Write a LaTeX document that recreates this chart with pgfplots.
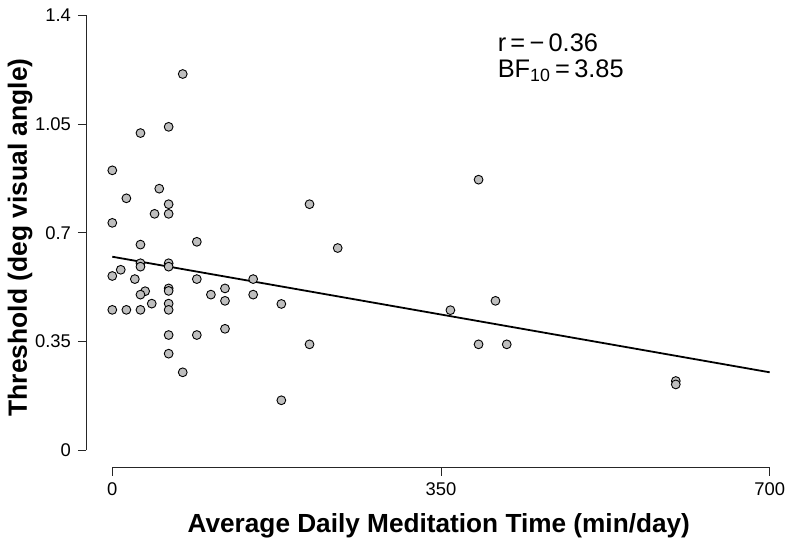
\documentclass[border=0pt]{standalone}
\usepackage{fontspec}
\setmainfont{Liberation Sans}
\usepackage{pgfplots}
\pgfplotsset{compat=1.18}
\definecolor{ptfill}{RGB}{190,190,190}

\pgfplotstableread{
x y
75 1.211
60 1.041
30 1.021
0 0.901
50 0.842
15 0.811
60 0.792
45 0.761
60 0.761
0 0.732
30 0.662
90 0.671
30 0.602
30 0.591
60 0.602
60 0.591
9 0.581
0 0.561
24 0.551
90 0.551
150 0.551
60 0.521
60 0.513
35 0.512
30 0.501
105 0.501
120 0.521
120 0.481
150 0.501
180 0.471
60 0.472
42 0.472
0 0.452
15 0.452
30 0.452
60 0.452
60 0.371
90 0.371
120 0.391
60 0.311
75 0.251
180 0.161
210 0.792
240 0.651
210 0.341
390 0.871
360 0.451
408 0.481
390 0.341
420 0.341
600 0.223
600 0.212
}\meditation

\begin{document}
\begin{tikzpicture}
\begin{axis}[
  width=341.85pt, height=234.9pt, scale only axis,
  xmin=-28, xmax=700, ymin=-0.056, ymax=1.456,
  clip=false,
  axis line style={draw=none},
  xtick={0,350,700},
  ytick={0,0.35,0.7,1.05,1.4},
  yticklabels={0,0.35,0.7,1.05,1.4},
  xtick pos=bottom, ytick pos=left,
  tick align=outside, major tick length=4pt,
  tick style={black!85, line width=0.5pt},
  ticklabel style={font=\fontsize{9.2}{11}\selectfont},
  /pgf/number format/assume math mode=true,
  xlabel={Average Daily Meditation Time (min/day)},
  ylabel={Threshold (deg visual angle)},
  xlabel style={at={(axis description cs:0.516,0)}, anchor=base, yshift=-32.6pt,
    font=\bfseries\fontsize{13.1}{15}\selectfont},
  ylabel style={at={(axis description cs:-0.0965,0.49)}, anchor=center,
    font=\bfseries\fontsize{13.2}{15}\selectfont},
]
\draw[black!85, line width=0.5pt] (axis cs:-28,0) -- (axis cs:-28,1.4);
\draw[black!85, line width=0.5pt] (axis cs:0,-0.056) -- (axis cs:700,-0.056);
\addplot[black, line width=0.9pt] coordinates {(0,0.623) (700,0.251)};
\addplot[only marks, mark=*, mark size=2.2pt,
  mark options={fill=ptfill, draw=black, line width=0.45pt}] table[x=x, y=y] {\meditation};
\node[anchor=base west, inner sep=0pt, font=\fontsize{12.7}{14}\selectfont] at (axis cs:410,1.282) {r\,=\,−\,0.36};
\node[anchor=base west, inner sep=0pt, font=\fontsize{12.7}{14}\selectfont] at (axis cs:410,1.201) {BF\textsubscript{10}\,=\,3.85};
\coordinate (sw) at (rel axis cs:0,0);
\end{axis}
\pgfresetboundingbox
\path (sw) ++(-43pt,-36.15pt) rectangle ++(392.5pt,270pt);
\end{tikzpicture}
\end{document}
